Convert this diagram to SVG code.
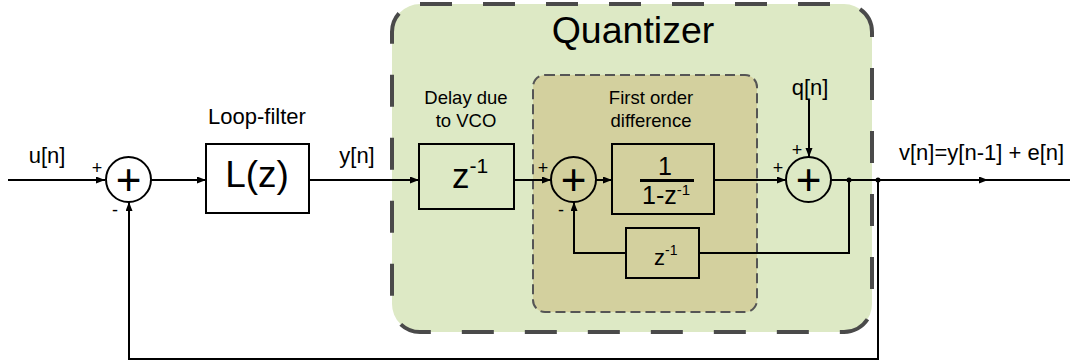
<svg xmlns="http://www.w3.org/2000/svg" width="1070" height="362" viewBox="0 0 1070 362">
<style>
text{font-family:"Liberation Sans",Arial,sans-serif;fill:#000}
.lbl{font-size:22px}
.sm{font-size:18.5px;text-anchor:middle}
.sg{font-size:18px;text-anchor:middle}
.pl{font-size:44px;text-anchor:middle}
.blk{fill:none;stroke:#000;stroke-width:2}
.ln{fill:none;stroke:#000;stroke-width:2}
</style>
<defs>
<marker id="ah" markerUnits="userSpaceOnUse" markerWidth="10" markerHeight="8" refX="9" refY="3.5" orient="auto">
<path d="M0,0 L9,3.5 L0,7 z" fill="#000"/>
</marker>
</defs>
<g id="quantizer">
<rect x="392" y="4" width="480" height="328" rx="28" fill="#dde9c5" stroke="#4a4a4a" stroke-width="4" stroke-dasharray="32 31"/>
<text x="633" y="43" font-size="37.5" text-anchor="middle">Quantizer</text>
</g>
<g id="first-order-difference">
<rect x="533" y="75" width="224" height="237" rx="12" fill="#d3d09e" stroke="#555" stroke-width="2" stroke-dasharray="10 5"/>
<text class="sm" x="651" y="104">First order</text>
<text class="sm" x="651" y="127">difference</text>
</g>
<g id="connectors">
<path class="ln" d="M8,180 H105" marker-end="url(#ah)"/>
<path class="ln" d="M151,180 H206" stroke-width="3.5" marker-end="url(#ah)"/>
<path class="ln" d="M309,180 H419" marker-end="url(#ah)"/>
<path class="ln" d="M514,180 H551" marker-end="url(#ah)"/>
<path class="ln" d="M596,180 H612" marker-end="url(#ah)"/>
<path class="ln" d="M714,180 H786" marker-end="url(#ah)"/>
<path class="ln" d="M809,100 V157" stroke-width="3" marker-end="url(#ah)"/>
<path class="ln" d="M831,180 H988" marker-end="url(#ah)"/>
<path class="ln" d="M986,180 H1070"/>
<path class="ln" d="M849,180 V253 H699"/>
<path class="ln" d="M626,253 H574 V202" marker-end="url(#ah)"/>
<path class="ln" d="M878,180 V359 H129 V202" marker-end="url(#ah)"/>
<circle cx="849" cy="180" r="2.5" fill="#000"/>
<circle cx="878" cy="180" r="2.5" fill="#000"/>
</g>
<g id="input-label"><text class="lbl" x="47" y="163" text-anchor="middle">u[n]</text></g>
<g id="sum1">
<circle cx="128.5" cy="179.5" r="22.5" fill="none" stroke="#000" stroke-width="2"/>
<text class="pl" x="128.5" y="195">+</text>
<text class="sg" x="97" y="174">+</text>
<text class="sg" x="115" y="216">-</text>
</g>
<g id="loop-filter">
<rect class="blk" x="206" y="144" width="103" height="69" fill="#fff"/>
<text x="257" y="187" font-size="37" text-anchor="middle">L(z)</text>
<text class="lbl" x="257" y="124" text-anchor="middle">Loop-filter</text>
</g>
<g id="y-label"><text class="lbl" x="357" y="163" text-anchor="middle">y[n]</text></g>
<g id="delay-vco">
<rect class="blk" x="419" y="144" width="95" height="65"/>
<text x="452" y="188" font-size="35">z<tspan font-size="21" dy="-15">-1</tspan></text>
<text class="sm" x="466" y="104">Delay due</text>
<text class="sm" x="466" y="127">to VCO</text>
</g>
<g id="sum2">
<circle cx="573.5" cy="179.5" r="22.5" fill="none" stroke="#000" stroke-width="2"/>
<text class="pl" x="573.5" y="195">+</text>
<text class="sg" x="543" y="174">+</text>
<text class="sg" x="561" y="216">-</text>
</g>
<g id="integrator">
<rect class="blk" x="612" y="144" width="102" height="70"/>
<text x="665" y="175" font-size="25" text-anchor="middle">1</text>
<line x1="640" y1="180.5" x2="694" y2="180.5" stroke="#000" stroke-width="3"/>
<text x="642" y="204" font-size="25">1-z<tspan font-size="15" dy="-9">-1</tspan></text>
</g>
<g id="delay-feedback">
<rect class="blk" x="626" y="228" width="73" height="50"/>
<text x="654" y="265" font-size="22">z<tspan font-size="14" dy="-10">-1</tspan></text>
</g>
<g id="sum3">
<circle cx="808.5" cy="179.5" r="22.5" fill="none" stroke="#000" stroke-width="2"/>
<text class="pl" x="808.5" y="195">+</text>
<text class="sg" x="778" y="174">+</text>
<text class="sg" x="797" y="156">+</text>
</g>
<g id="q-label"><text class="lbl" x="810" y="95" text-anchor="middle">q[n]</text></g>
<g id="output-label"><text class="lbl" x="899" y="160">v[n]=y[n-1] + e[n]</text></g>
</svg>
